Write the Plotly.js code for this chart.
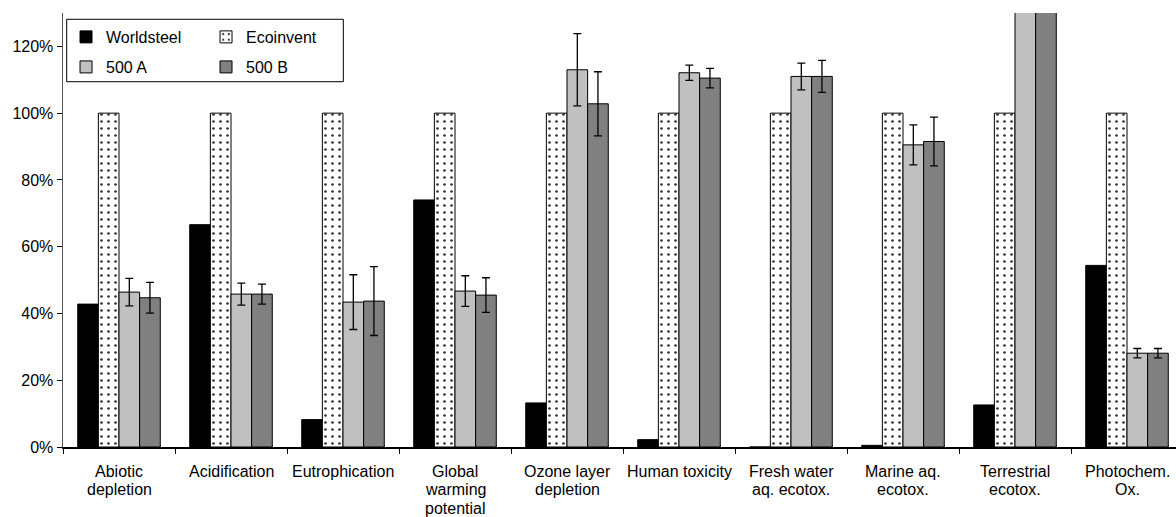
<!DOCTYPE html>
<html>
<head>
<meta charset="utf-8">
<script src="https://cdn.plot.ly/plotly-3.0.1.min.js"></script>
<style>
  html, body { margin: 0; padding: 0; overflow: hidden; background: #fff; }
  #chart { width: 1188px; height: 517px; }
</style>
</head>
<body>
<div id="chart"></div>
<script>
const categories = [
  "Abiotic<br>depletion", "Acidification", "Eutrophication",
  "Global<br>warming<br>potential", "Ozone layer<br>depletion", "Human toxicity",
  "Fresh water<br>aq. ecotox.", "Marine aq.<br>ecotox.", "Terrestrial<br>ecotox.",
  "Photochem.<br>Ox."
];
const worldsteel = [42.8, 66.6, 8.2, 74.0, 13.2, 2.2, 0, 0.5, 12.6, 54.4];
const ecoinvent  = [100, 100, 100, 100, 100, 100, 100, 100, 100, 100];
const a500       = [46.4, 45.8, 43.4, 46.7, 113.0, 112.1, 111.0, 90.5, 160, 28.1];
const a500Err    = [4.1, 3.3, 8.2, 4.6, 10.8, 2.3, 4.0, 6.0, 0, 1.4];
const b500       = [44.7, 45.8, 43.7, 45.5, 102.8, 110.5, 111.0, 91.5, 160, 28.1];
const b500Err    = [4.6, 3.0, 10.3, 5.2, 9.6, 2.9, 4.8, 7.3, 0, 1.4];
const yTicks     = [0, 20, 40, 60, 80, 100, 120];
const yTickText  = yTicks.map(v => v + "%");

const FONT = "Liberation Sans, Arial, sans-serif";
const line = { color: "#000", width: 1 };
const errStyle = { type: "data", visible: true, color: "#000", thickness: 1.3, width: 4 };

const traces = [
  { type: "bar", name: "Worldsteel", x: categories, y: worldsteel,
    marker: { color: "#000", line: line }, legend: "legend" },
  { type: "bar", name: "Ecoinvent", x: categories, y: ecoinvent,
    marker: { color: "#fff", line: line,
      pattern: { shape: ".", bgcolor: "#fff", fgcolor: "#333", size: 7, solidity: 0.12 } },
    legend: "legend" },
  { type: "bar", name: "500 A", x: categories, y: a500,
    error_y: Object.assign({ array: a500Err }, errStyle),
    marker: { color: "#c0c0c0", line: line }, legend: "legend2" },
  { type: "bar", name: "500 B", x: categories, y: b500,
    error_y: Object.assign({ array: b500Err }, errStyle),
    marker: { color: "#808080", line: line }, legend: "legend2" }
];

const legendBase = {
  orientation: "h", entrywidth: 95, entrywidthmode: "pixels",
  xref: "paper", yref: "paper", xanchor: "left", yanchor: "top",
  bgcolor: "rgba(0,0,0,0)", borderwidth: 0,
  font: { family: FONT, size: 16, color: "#000" }, itemwidth: 30
};

// category labels: one annotation per text line, placed on the category axis
const LINE_GAP = 18.3;
const labelAnnotations = [];
categories.forEach(cat => {
  cat.split("<br>").forEach((txt, j) => {
    labelAnnotations.push({
      x: cat, xref: "x", y: 0, yref: "paper", yanchor: "top",
      yshift: -(14 + j * LINE_GAP), text: txt, showarrow: false,
      font: { family: FONT, size: 16, color: "#000" }
    });
  });
});

const layout = {
  width: 1188, height: 517,
  margin: { l: 63, r: 5, t: 13, b: 70, pad: 0 },
  paper_bgcolor: "#fff", plot_bgcolor: "#fff",
  font: { family: FONT, size: 16, color: "#000" },
  barmode: "group", bargap: 0.263, bargroupgap: 0,
  showlegend: true,
  legend: Object.assign({}, legendBase, { x: 0.0027, y: 0.9839 }),
  legend2: Object.assign({}, legendBase, { x: 0.0027, y: 0.9147 }),
  xaxis: {
    type: "category", tickson: "boundaries", ticks: "outside", ticklen: 5,
    tickcolor: "#000", showline: true, linecolor: "#000", linewidth: 1.5,
    showgrid: false, showticklabels: false, automargin: false
  },
  yaxis: {
    range: [0, 130], tickmode: "array", tickvals: yTicks, ticktext: yTickText,
    ticks: "outside", ticklen: 5, tickcolor: "#000", showline: true,
    linecolor: "#555", linewidth: 1.5, mirror: true, showgrid: false,
    zeroline: false, tickfont: { family: FONT, size: 16, color: "#000" },
    automargin: false
  },
  annotations: labelAnnotations,
  shapes: [{
    type: "rect", xref: "paper", yref: "paper",
    x0: 0.0033, x1: 0.2503, y0: 0.8417, y1: 0.9855,
    line: { color: "#000", width: 1 }, fillcolor: "rgba(0,0,0,0)"
  }]
};

Plotly.newPlot("chart", traces, layout, { displayModeBar: false, staticPlot: true });
</script>
</body>
</html>
